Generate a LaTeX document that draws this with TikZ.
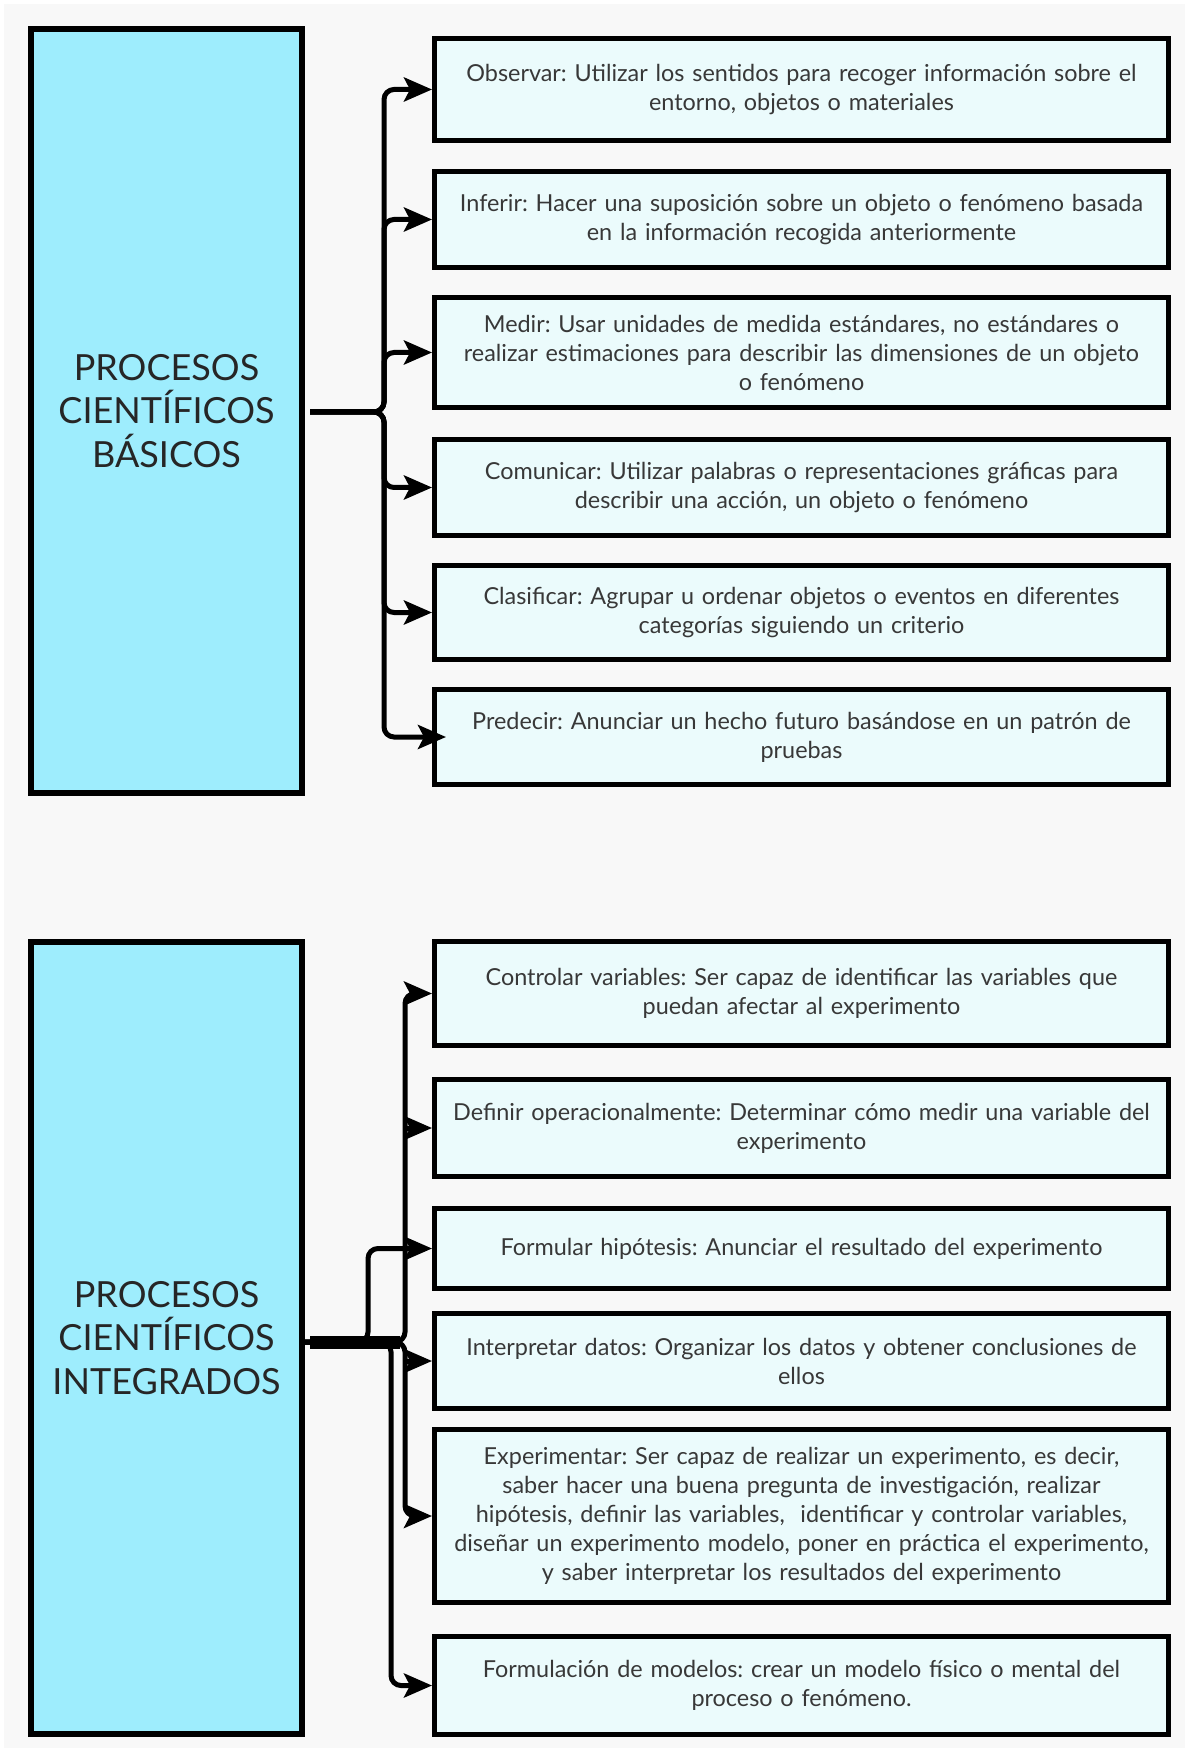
\documentclass[tikz,border=0pt]{standalone}
\usepackage{fontspec}
\setmainfont{Lato}
\usetikzlibrary{arrows.meta}
\definecolor{fondo}{HTML}{F8F8F8}
\definecolor{azul}{HTML}{9EEDFD}
\definecolor{celeste}{HTML}{EBFBFC}
\definecolor{texto}{HTML}{383838}
\frenchspacing

\begin{document}
\begin{tikzpicture}[x=0.5pt, y=-0.5pt,
        proceso/.style={draw, line width=3pt, fill=azul, inner sep=0pt, minimum width=135.5pt, align=center, text=black!85, font=\fontsize{18}{21.75}\selectfont},
        caja/.style={draw, line width=2.5pt, fill=celeste, inner sep=0pt, minimum width=367pt, text width=365pt, align=center, text=texto, font=\fontsize{11.7}{14.5}\selectfont},
        flecha/.style={line width=2.5pt, rounded corners=5pt, -{Stealth[length=14pt, width=12pt, inset=3pt]}}]
        \useasboundingbox (0,0) rectangle (1185,1748);
        \fill[white] (0,0) rectangle (1185,1748);
        \fill[fondo] (4,4) rectangle (1185,1748);
        % procesos basicos
        \node[proceso, minimum height=382pt] (basicos) at (166.5,411) {PROCESOS\\CIENTÍFICOS\\BÁSICOS};
        \node[caja, minimum height=51pt] (observar) at (801.5,89.5) {Observar: Utilizar los sentidos para recoger información sobre el\\entorno, objetos o materiales};
        \node[caja, minimum height=48pt] (inferir) at (801.5,219.5) {Inferir: Hacer una suposición sobre un objeto o fenómeno basada\\en la información recogida anteriormente};
        \node[caja, minimum height=55pt] (medir) at (801.5,352.5) {Medir: Usar unidades de medida estándares, no estándares o\\realizar estimaciones para describir las dimensiones de un objeto\\o fenómeno};
        \node[caja, minimum height=48pt] (comunicar) at (801.5,487.5) {Comunicar: Utilizar palabras o representaciones gráficas para\\describir una acción, un objeto o fenómeno};
        \node[caja, minimum height=47pt] (clasificar) at (801.5,612.5) {Clasificar: Agrupar u ordenar objetos o eventos en diferentes\\categorías siguiendo un criterio};
        \node[caja, minimum height=47.5pt] (predecir) at (801.5,737) {Predecir: Anunciar un hecho futuro basándose en un patrón de\\pruebas};
        \coordinate (llave) at (384,412);
        \draw[flecha, shorten <=2.5pt] (basicos.east |- llave) -- (llave) |- (observar.west);
        \draw[flecha, shorten <=2.5pt] (basicos.east |- llave) -- (llave) |- (inferir.west);
        \draw[flecha, shorten <=2.5pt] (basicos.east |- llave) -- (llave) |- (medir.west);
        \draw[flecha, shorten <=2.5pt] (basicos.east |- llave) -- (llave) |- (comunicar.west);
        \draw[flecha, shorten <=2.5pt] (basicos.east |- llave) -- (llave) |- (clasificar.west);
        \draw[flecha, shorten <=2.5pt, shorten >=-7pt] (basicos.east |- llave) -- (llave) |- (predecir.west);
        % procesos integrados
        \node[proceso, minimum height=396pt] (integrados) at (166.5,1338) {PROCESOS\\CIENTÍFICOS\\INTEGRADOS};
        \node[caja, minimum height=52pt] (controlar) at (801.5,993.5) {Controlar variables: Ser capaz de identificar las variables que\\puedan afectar al experimento};
        \node[caja, minimum height=48.5pt] (definir) at (801.5,1128) {Definir operacionalmente: Determinar cómo medir una variable del\\experimento};
        \node[caja, minimum height=40pt] (formular) at (801.5,1248.5) {Formular hipótesis: Anunciar el resultado del experimento};
        \node[caja, minimum height=47.5pt] (interpretar) at (801.5,1361) {Interpretar datos: Organizar los datos y obtener conclusiones de\\ellos};
        \node[caja, minimum height=86.5pt] (experimentar) at (801.5,1516) {Experimentar: Ser capaz de realizar un experimento, es decir,\\saber hacer una buena pregunta de investigación, realizar\\hipótesis, definir las variables,\ \ identificar y controlar variables,\\diseñar un experimento modelo, poner en práctica el experimento,\\y saber interpretar los resultados del experimento};
        \node[caja, minimum height=49pt] (modelos) at (801.5,1685.5) {Formulación de modelos: crear un modelo físico o mental del\\proceso o fenómeno.};
        \coordinate (tronco) at (405,1342);
        \coordinate (ramaf) at (368,1342);
        \coordinate (ramam) at (391,1342);
        \draw[flecha] (integrados.east |- tronco) -- (tronco) |- (controlar.west);
        \draw[flecha] (integrados.east |- tronco) -- (tronco) |- (experimentar.west);
        \draw[flecha] (definir.west -| tronco) -- (definir.west);
        \draw[flecha] (interpretar.west -| tronco) -- (interpretar.west);
        \draw[flecha] (integrados.east |- tronco) -- (ramaf) |- (formular.west);
        \draw[flecha] (integrados.east |- tronco) -- (ramam) |- (modelos.west);
        \draw[line width=6.5pt, shorten <=2.5pt] (integrados.east |- tronco) -- (400,1342);
    \end{tikzpicture}
\end{document}
